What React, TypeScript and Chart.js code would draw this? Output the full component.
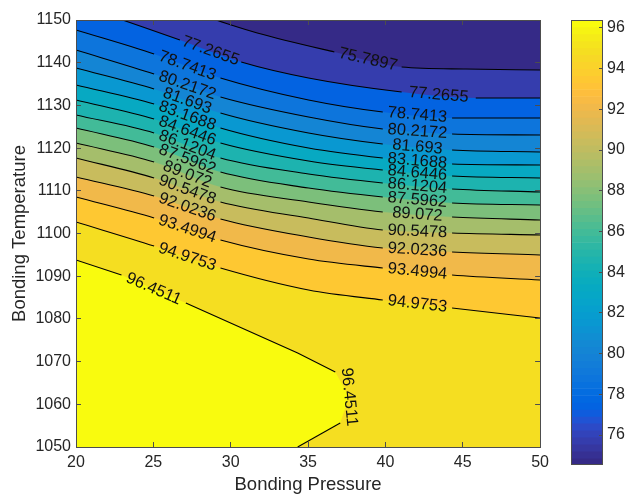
import React, { useEffect, useRef } from 'react';
import { Chart, registerables } from 'chart.js';

Chart.register(...registerables);

const FONT = '"Liberation Sans", Arial, Helvetica, sans-serif';

// Axis ranges and ticks
const X_MIN = 20;
const X_MAX = 50;
const X_STEP = 5;
const Y_MIN = 1050;
const Y_MAX = 1150;
const Y_STEP = 10;
const X_TITLE = 'Bonding Pressure';
const Y_TITLE = 'Bonding Temperature';

// Colour limits (colorbar) and its tick step
const CMIN = 74.53;
const CMAX = 96.39;
const CB_STEP = 2;

// Contour levels
const LEVELS = [75.7897, 77.2655, 78.7413, 80.2172, 81.693, 83.1688, 84.6446, 86.1204, 87.5962, 89.072, 90.5478, 92.0236, 93.4994, 94.9753, 96.4511];

// Contour polylines [pressure, temperature]
const CONTOUR_POINTS: number[][][] = [
  [[20, 1160], [29.02, 1150], [31.72, 1146.96], [36.7, 1142.51], [41.05, 1138.99], [45.2, 1138.52], [50, 1138.29]],
  [[20, 1153.8], [23.01, 1150], [26.72, 1145.32], [30.68, 1140.16], [35.03, 1136.42], [41.05, 1133.14], [45.84, 1131.73], [50, 1131.73]],
  [[20, 1147.66], [25.05, 1142.04], [29.34, 1136.42], [35.03, 1131.27], [39.83, 1128.45], [44.31, 1127.05], [50, 1127.05]],
  [[20, 1142.97], [25.05, 1137.35], [29.34, 1131.97], [35.03, 1127.28], [39.83, 1124.47], [44.31, 1123.3], [50, 1123.07]],
  [[20, 1138.76], [25.05, 1133.84], [29.34, 1128.22], [35.03, 1123.54], [39.83, 1120.96], [44.31, 1119.56], [50, 1119.09]],
  [[20, 1134.78], [25.05, 1130.33], [29.34, 1124.71], [35.03, 1120.02], [39.83, 1117.68], [44.31, 1116.28], [50, 1116.04]],
  [[20, 1131.27], [25.05, 1126.82], [29.34, 1121.19], [35.03, 1116.98], [39.83, 1114.87], [44.31, 1113.47], [50, 1113.0]],
  [[20, 1127.75], [25.05, 1123.54], [29.34, 1117.68], [35.03, 1113.94], [39.83, 1111.83], [44.31, 1110.42], [50, 1109.72]],
  [[20, 1124.71], [25.05, 1120.26], [29.34, 1114.4], [35.03, 1110.66], [39.83, 1108.55], [44.31, 1107.15], [50, 1106.67]],
  [[20, 1121.19], [25.05, 1116.75], [29.34, 1110.89], [35.03, 1107.38], [39.83, 1105.04], [44.31, 1103.87], [50, 1103.17]],
  [[20, 1117.68], [25.05, 1113.0], [29.34, 1107.38], [35.03, 1103.63], [39.83, 1100.82], [44.31, 1100.12], [50, 1099.65]],
  [[20, 1113.23], [25.05, 1108.78], [29.34, 1103.4], [35.03, 1099.18], [39.83, 1096.61], [44.31, 1095.67], [50, 1094.97]],
  [[20, 1108.55], [25.05, 1103.63], [29.34, 1098.48], [35.03, 1094.03], [39.83, 1091.92], [44.31, 1090.28], [50, 1089.11]],
  [[20, 1102.7], [25.05, 1097.07], [29.34, 1091.92], [35.03, 1086.77], [39.83, 1084.43], [44.31, 1082.56], [50, 1080.21]],
  [[20, 1093.8], [22.94, 1090.28], [27.1, 1083.73], [34.33, 1072.02], [36.76, 1067.57], [37.65, 1061.71], [37.08, 1055.62], [34.33, 1050]],
];

// Point-index spans where the inline labels sit (line is broken there)
const LABEL_GAPS: number[][][] = [
  [[3, 4]],
  [[2, 3], [5, 6]],
  [[1, 2], [4, 5]], [[1, 2], [4, 5]], [[1, 2], [4, 5]], [[1, 2], [4, 5]],
  [[1, 2], [4, 5]], [[1, 2], [4, 5]], [[1, 2], [4, 5]], [[1, 2], [4, 5]],
  [[1, 2], [4, 5]], [[1, 2], [4, 5]], [[1, 2], [4, 5]], [[1, 2], [4, 5]],
  [[1, 2], [4, 6]],
];
// Spans lying outside the axes (not stroked)
const HIDDEN_SPANS: number[][][] = [[[0, 1]], [[0, 1]], [], [], [], [], [], [], [], [], [], [], [], [], []];
// Contours that are closed against the lower-left corner
const CORNER_CLOSED = [false, false, false, false, false, false, false, false, false, false, false, false, false, false, true];

// MATLAB parula colormap (64 rows)
const PARULA = [
  [0.2081, 0.1663, 0.5292], [0.2116, 0.1898, 0.5777], [0.2123, 0.2138, 0.627], [0.2081, 0.2386, 0.6771],
  [0.1959, 0.2645, 0.7279], [0.1707, 0.2919, 0.7792], [0.1253, 0.3242, 0.8303], [0.0591, 0.3598, 0.8683],
  [0.0117, 0.3875, 0.882], [0.006, 0.4086, 0.8828], [0.0165, 0.4266, 0.8786], [0.0329, 0.443, 0.872],
  [0.0498, 0.4586, 0.8641], [0.0629, 0.4737, 0.8554], [0.0723, 0.4887, 0.8467], [0.0779, 0.504, 0.8384],
  [0.0793, 0.52, 0.8312], [0.0749, 0.5375, 0.8263], [0.0641, 0.557, 0.824], [0.0488, 0.5772, 0.8228],
  [0.0343, 0.5966, 0.8199], [0.0265, 0.6137, 0.8135], [0.0239, 0.6287, 0.8038], [0.0231, 0.6418, 0.7913],
  [0.0228, 0.6535, 0.7768], [0.0267, 0.6642, 0.7607], [0.0384, 0.6743, 0.7436], [0.059, 0.6838, 0.7254],
  [0.0843, 0.6928, 0.7062], [0.1133, 0.7015, 0.6859], [0.1453, 0.7098, 0.6646], [0.1801, 0.7177, 0.6424],
  [0.2178, 0.725, 0.6193], [0.2586, 0.7317, 0.5954], [0.3022, 0.7376, 0.5712], [0.3482, 0.7424, 0.5473],
  [0.3953, 0.7459, 0.5244], [0.442, 0.7481, 0.5033], [0.4871, 0.7491, 0.484], [0.53, 0.7491, 0.4661],
  [0.5709, 0.7485, 0.4494], [0.6099, 0.7473, 0.4337], [0.6473, 0.7456, 0.4188], [0.6834, 0.7435, 0.4044],
  [0.7184, 0.7411, 0.3905], [0.7525, 0.7384, 0.3768], [0.7858, 0.7356, 0.3633], [0.8185, 0.7327, 0.3498],
  [0.8507, 0.7299, 0.336], [0.8824, 0.7274, 0.3217], [0.9139, 0.7258, 0.3063], [0.945, 0.7261, 0.2886],
  [0.9739, 0.7314, 0.2666], [0.9938, 0.7455, 0.2403], [0.999, 0.7653, 0.2164], [0.9955, 0.7861, 0.1967],
  [0.988, 0.8066, 0.1794], [0.9789, 0.8271, 0.1633], [0.9697, 0.8481, 0.1475], [0.9626, 0.8705, 0.1309],
  [0.9589, 0.8949, 0.1132], [0.9598, 0.9218, 0.0948], [0.9661, 0.9514, 0.0755], [0.9763, 0.9831, 0.0538],
];

const rowColor = (row: number[]) =>
  `rgb(${Math.round(row[0] * 255)},${Math.round(row[1] * 255)},${Math.round(row[2] * 255)})`;

function levelColor(v: number) {
  let i = Math.floor(((v - CMIN) / (CMAX - CMIN)) * PARULA.length);
  i = Math.max(0, Math.min(PARULA.length - 1, i));
  return rowColor(PARULA[i]);
}

const TRANSPARENT = 'rgba(0,0,0,0)';
const TEXT = '#262626';
const AXIS = '#4d4d4d';

function inSpans(spans: number[][], idx: number) {
  return spans.some(([a, b]) => idx >= a && idx < b);
}

const plainTick = (v: any) => String(v);

const areaBackground = {
  id: 'areaBackground',
  beforeDatasetsDraw(chart: any) {
    const { ctx, chartArea } = chart;
    ctx.save();
    ctx.fillStyle = rowColor(PARULA[0]);
    ctx.fillRect(chartArea.left, chartArea.top, chartArea.right - chartArea.left, chartArea.bottom - chartArea.top);
    ctx.restore();
  },
};

const contourLabels = {
  id: 'contourLabels',
  afterDatasetsDraw(chart: any) {
    const { ctx } = chart;
    const xs = chart.scales.x;
    const ys = chart.scales.y;
    const toPx = (p: number[]) => [xs.getPixelForValue(p[0]), ys.getPixelForValue(p[1])];
    ctx.save();
    ctx.font = `16.5px ${FONT}`;
    ctx.fillStyle = '#111';
    ctx.textAlign = 'center';
    ctx.textBaseline = 'middle';
    LEVELS.forEach((lvl, k) => {
      const pts = CONTOUR_POINTS[k];
      LABEL_GAPS[k].forEach(([i, j]) => {
        const a = toPx(pts[i]);
        const b = toPx(pts[j]);
        const c = j - i >= 2 ? toPx(pts[Math.round((i + j) / 2)]) : [(a[0] + b[0]) / 2, (a[1] + b[1]) / 2];
        let ang = Math.atan2(b[1] - a[1], b[0] - a[0]);
        if (ang > Math.PI / 2) ang -= Math.PI;
        if (ang < -Math.PI / 2) ang += Math.PI;
        ctx.save();
        ctx.translate(c[0], c[1]);
        ctx.rotate(ang);
        ctx.fillText(String(lvl), 0, 0);
        ctx.restore();
      });
    });
    ctx.restore();
  },
};

const boxOutline = {
  id: 'boxOutline',
  afterDraw(chart: any) {
    const { ctx, chartArea } = chart;
    ctx.save();
    ctx.strokeStyle = AXIS;
    ctx.lineWidth = 1;
    ctx.strokeRect(chartArea.left + 0.5, chartArea.top + 0.5, chartArea.right - chartArea.left - 1, chartArea.bottom - chartArea.top - 1);
    ctx.restore();
  },
};

function buildContourDatasets() {
  const sets: any[] = [];
  LEVELS.forEach((lvl, k) => {
    const pts = CONTOUR_POINTS[k].map(([x, y]) => ({ x, y }));
    const closed = CORNER_CLOSED[k];
    const interp = closed ? { tension: 0 } : { cubicInterpolationMode: 'monotone' as const };
    sets.push({
      data: closed ? [...pts, { x: X_MIN, y: Y_MIN }] : pts,
      fill: closed ? 'shape' : 'start',
      backgroundColor: levelColor(lvl),
      borderColor: TRANSPARENT,
      borderWidth: 0,
      pointRadius: 0,
      order: 100 - k,
      ...interp,
    });
    const skip = [...LABEL_GAPS[k], ...HIDDEN_SPANS[k]];
    sets.push({
      data: pts,
      fill: false,
      borderColor: '#000',
      borderWidth: 1.1,
      pointRadius: 0,
      order: 0,
      segment: {
        borderColor: (ctx: any) => (inSpans(skip, ctx.p0DataIndex) ? TRANSPARENT : '#000'),
      },
      ...interp,
    });
  });
  return sets;
}

const tickFont = { family: FONT, size: 16 };
const titleFont = { family: FONT, size: 18.5 };

export default function App() {
  const mainRef = useRef<HTMLCanvasElement>(null);
  const barRef = useRef<HTMLCanvasElement>(null);

  useEffect(() => {
    const main = new Chart(mainRef.current!, {
      type: 'line',
      data: { datasets: buildContourDatasets() },
      options: {
        animation: false,
        responsive: false,
        devicePixelRatio: 1,
        events: [],
        layout: { padding: { left: 0, top: 20, right: 15, bottom: 0 } },
        plugins: { legend: { display: false }, tooltip: { enabled: false } },
        scales: {
          x: {
            type: 'linear',
            position: 'bottom',
            min: X_MIN,
            max: X_MAX,
            afterFit: (s: any) => { s.height = 50; },
            ticks: { stepSize: X_STEP, includeBounds: false, font: tickFont, color: TEXT, padding: 11, maxRotation: 0, callback: plainTick },
            grid: { drawOnChartArea: false, drawTicks: true, tickLength: -5, color: AXIS, z: 1 },
            border: { display: true, color: AXIS, z: 1 },
            title: { display: true, text: X_TITLE, font: titleFont, color: TEXT, padding: { top: 0, bottom: 1 } },
          },
          y: {
            type: 'linear',
            position: 'left',
            min: Y_MIN,
            max: Y_MAX,
            afterFit: (s: any) => { s.width = 76; },
            ticks: { stepSize: Y_STEP, includeBounds: false, font: tickFont, color: TEXT, padding: 10, callback: plainTick },
            grid: { drawOnChartArea: false, drawTicks: true, tickLength: -5, color: AXIS, z: 1 },
            border: { display: true, color: AXIS, z: 1 },
            title: { display: true, text: Y_TITLE, font: titleFont, color: TEXT, padding: { top: 9, bottom: 0 } },
          },
          x2: {
            type: 'linear',
            position: 'top',
            min: X_MIN,
            max: X_MAX,
            afterFit: (s: any) => { s.height = 0; },
            ticks: { stepSize: X_STEP, includeBounds: false, display: false },
            grid: { drawOnChartArea: false, drawTicks: true, tickLength: -5, color: AXIS, z: 1 },
            border: { display: true, color: AXIS, z: 1 },
          },
          y2: {
            type: 'linear',
            position: 'right',
            min: Y_MIN,
            max: Y_MAX,
            afterFit: (s: any) => { s.width = 0; },
            ticks: { stepSize: Y_STEP, includeBounds: false, display: false },
            grid: { drawOnChartArea: false, drawTicks: true, tickLength: -5, color: AXIS, z: 1 },
            border: { display: true, color: AXIS, z: 1 },
          },
        },
      },
      plugins: [areaBackground, contourLabels],
    } as any);

    const binW = (CMAX - CMIN) / PARULA.length;
    const bins = PARULA.map((_, i) => ({ x: [0, 1], y: CMIN + binW * (i + 0.5) }));
    const bar = new Chart(barRef.current!, {
      type: 'bar',
      data: {
        datasets: [{
          data: bins,
          backgroundColor: PARULA.map(rowColor),
          borderWidth: 0,
          barPercentage: 1,
          categoryPercentage: 1,
        }],
      },
      options: {
        animation: false,
        responsive: false,
        devicePixelRatio: 1,
        events: [],
        indexAxis: 'y',
        layout: { padding: { left: 11, top: 20, right: 0, bottom: 32 } },
        plugins: { legend: { display: false }, tooltip: { enabled: false } },
        scales: {
          x: { type: 'linear', min: 0, max: 1, display: false },
          y: {
            type: 'linear',
            position: 'right',
            min: CMIN,
            max: CMAX,
            offset: false,
            afterFit: (s: any) => { s.width = 26; },
            ticks: { stepSize: CB_STEP, includeBounds: false, font: tickFont, color: TEXT, padding: 8, callback: plainTick },
            grid: { offset: false, drawOnChartArea: false, drawTicks: true, tickLength: -4, color: AXIS, z: 1 },
            border: { display: false },
          },
        },
      },
      plugins: [boxOutline],
    } as any);

    return () => {
      main.destroy();
      bar.destroy();
    };
  }, []);

  return (
    <div style={{ position: 'absolute', left: 0, top: 0, width: 629, height: 497, background: '#fff', overflow: 'hidden' }}>
      <canvas ref={mainRef} width={560} height={497} style={{ position: 'absolute', left: 0, top: 0 }} />
      <canvas ref={barRef} width={69} height={497} style={{ position: 'absolute', left: 560, top: 0 }} />
    </div>
  );
}
